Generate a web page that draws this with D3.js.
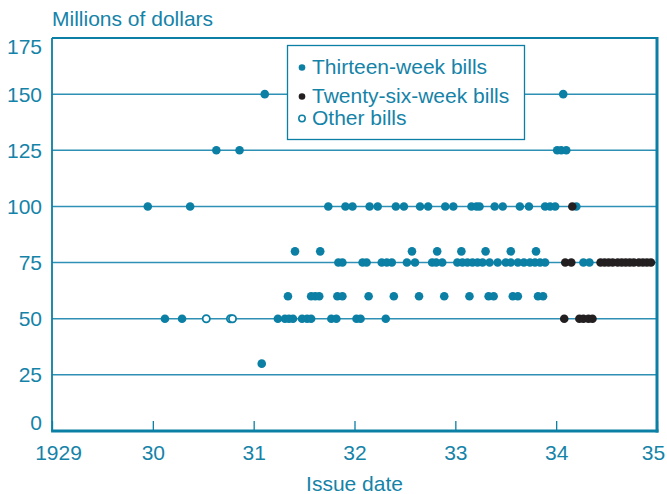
<!DOCTYPE html>
<html>
<head>
<meta charset="utf-8">
<script src="https://cdn.jsdelivr.net/npm/d3@7"></script>
<style>
  html, body { margin: 0; padding: 0; background: #fff; }
  svg { display: block; font-family: "Liberation Sans", Arial, sans-serif; }
</style>
</head>
<body>
<svg id="chart" width="667" height="494"></svg>
<script>
// Treasury bill issues, 1929-1935: [issue date (decimal year), amount in millions of dollars]
const thirteenWeek = [
  [1931.11, 150], [1934.07, 150],
  [1930.63, 125], [1930.86, 125], [1934.01, 125], [1934.05, 125], [1934.10, 125],
  [1929.95, 100], [1930.37, 100], [1931.74, 100], [1931.91, 100], [1931.98, 100],
  [1932.15, 100], [1932.23, 100], [1932.41, 100], [1932.49, 100], [1932.65, 100],
  [1932.73, 100], [1932.90, 100], [1932.98, 100], [1933.16, 100], [1933.21, 100],
  [1933.24, 100], [1933.39, 100], [1933.47, 100], [1933.64, 100], [1933.73, 100],
  [1933.89, 100], [1933.94, 100], [1933.99, 100], [1934.20, 100],
  [1931.41, 80], [1931.66, 80], [1932.57, 80], [1932.82, 80], [1933.06, 80],
  [1933.30, 80], [1933.55, 80], [1933.80, 80],
  [1931.84, 75], [1931.88, 75], [1932.08, 75], [1932.12, 75], [1932.27, 75],
  [1932.32, 75], [1932.37, 75], [1932.52, 75], [1932.60, 75], [1932.77, 75],
  [1932.81, 75], [1932.87, 75], [1933.02, 75], [1933.07, 75], [1933.12, 75],
  [1933.17, 75], [1933.22, 75], [1933.27, 75], [1933.34, 75], [1933.42, 75],
  [1933.50, 75], [1933.55, 75], [1933.62, 75], [1933.68, 75], [1933.74, 75],
  [1933.79, 75], [1933.84, 75], [1933.89, 75], [1934.27, 75], [1934.33, 75],
  [1931.34, 60], [1931.57, 60], [1931.61, 60], [1931.65, 60], [1931.83, 60],
  [1931.88, 60], [1932.14, 60], [1932.39, 60], [1932.64, 60], [1932.89, 60],
  [1933.14, 60], [1933.33, 60], [1933.38, 60], [1933.57, 60], [1933.62, 60],
  [1933.82, 60], [1933.87, 60],
  [1930.12, 50], [1930.29, 50], [1931.24, 50], [1931.31, 50], [1931.35, 50],
  [1931.39, 50], [1931.48, 50], [1931.53, 50], [1931.57, 50], [1931.77, 50],
  [1931.82, 50], [1932.02, 50], [1932.06, 50], [1932.31, 50],
  [1931.08, 30]
];

const twentySixWeek = [
  [1934.16, 100],
  [1934.09, 75], [1934.15, 75],
  [1934.44, 75], [1934.48, 75], [1934.52, 75], [1934.56, 75], [1934.61, 75],
  [1934.65, 75], [1934.69, 75], [1934.73, 75], [1934.77, 75], [1934.82, 75],
  [1934.86, 75], [1934.90, 75], [1934.94, 75],
  [1934.08, 50], [1934.23, 50], [1934.27, 50], [1934.32, 50], [1934.36, 50]
];

const otherBills = [
  [1930.53, 50], [1930.77, 50], [1930.79, 50]
];

const yTicks = [0, 25, 50, 75, 100, 125, 150, 175];
const gridValues = [25, 50, 75, 100, 125, 150];
const xTicks = [1929, 1930, 1931, 1932, 1933, 1934, 1935];
const xTickLabels = ["1929", "30", "31", "32", "33", "34", "35"];
const legendLabels = ["Thirteen-week bills", "Twenty-six-week bills", "Other bills"];

const TEAL = "#0b7fa4";
const TEXT = "#1583a8";
const GRID = "#2e90b4";
const BLACK = "#231f20";

const svg = d3.select("#chart");
const plotLeft = 52, plotRight = 657, plotTop = 38, plotBottom = 431;

const x = d3.scaleLinear().domain([1929, 1935]).range([plotLeft, plotRight]);
const y = d3.scaleLinear().domain([0, 175]).range([plotBottom, plotTop]);

// horizontal reference lines
svg.append("g")
  .selectAll("line")
  .data(gridValues)
  .join("line")
  .attr("x1", plotLeft).attr("x2", plotRight)
  .attr("y1", d => y(d)).attr("y2", d => y(d))
  .attr("stroke", GRID)
  .attr("stroke-width", 1.5);

// y axis labels
const yAxis = svg.append("g")
  .attr("transform", `translate(${plotLeft},0)`)
  .call(d3.axisLeft(y).tickValues(yTicks).tickSize(0).tickPadding(10).tickFormat(d3.format("d")));
yAxis.select(".domain").remove();
yAxis.selectAll("text")
  .attr("fill", TEXT)
  .attr("font-size", 21)
  .attr("font-family", "Liberation Sans, Arial, sans-serif")
  .attr("dy", d => d === 175 ? "0.72em" : d === 0 ? "-0.05em" : "0.34em");

// x axis with inward ticks
const xAxis = svg.append("g")
  .attr("transform", `translate(0,${plotBottom})`)
  .call(d3.axisBottom(x).tickValues(xTicks).tickSize(-10).tickPadding(14)
    .tickFormat((d, i) => xTickLabels[i]));
xAxis.select(".domain").remove();
xAxis.selectAll("line").attr("stroke", TEAL).attr("stroke-width", 1.3);
xAxis.selectAll("text")
  .attr("fill", TEXT)
  .attr("font-size", 21)
  .attr("font-family", "Liberation Sans, Arial, sans-serif")
  .attr("dx", d => d === 1929 ? 6 : d === 1935 ? -4 : 0);

// plot frame: lighter on top/left, heavier on bottom/right
const frame = svg.append("g").attr("stroke", TEAL).attr("fill", "none");
frame.append("line").attr("x1", plotLeft).attr("x2", plotRight).attr("y1", plotTop).attr("y2", plotTop).attr("stroke-width", 2);
frame.append("line").attr("x1", plotLeft).attr("x2", plotLeft).attr("y1", plotTop).attr("y2", plotBottom).attr("stroke-width", 1.8);
frame.append("line").attr("x1", plotRight).attr("x2", plotRight).attr("y1", plotTop - 1).attr("y2", plotBottom + 1.5).attr("stroke-width", 3);
frame.append("line").attr("x1", plotLeft - 0.9).attr("x2", plotRight + 1.5).attr("y1", plotBottom).attr("y2", plotBottom).attr("stroke-width", 3);

// data points
const R = 4.3;
svg.append("g").selectAll("circle")
  .data(thirteenWeek).join("circle")
  .attr("cx", d => x(d[0])).attr("cy", d => y(d[1])).attr("r", R)
  .attr("fill", TEAL);

svg.append("g").selectAll("circle")
  .data(twentySixWeek).join("circle")
  .attr("cx", d => x(d[0])).attr("cy", d => y(d[1])).attr("r", R)
  .attr("fill", BLACK);

svg.append("g").selectAll("circle")
  .data(otherBills).join("circle")
  .attr("cx", d => x(d[0])).attr("cy", d => y(d[1])).attr("r", 3.6)
  .attr("fill", "#fff").attr("stroke", TEAL).attr("stroke-width", 1.8);

// legend
const legend = svg.append("g");
legend.append("rect")
  .attr("x", 287.5).attr("y", 45.5).attr("width", 237).attr("height", 94)
  .attr("fill", "#fff").attr("stroke", TEAL).attr("stroke-width", 1.3);
const legendRows = [74, 103, 125];
const legendStyles = [
  { fill: TEAL, stroke: "none" },
  { fill: BLACK, stroke: "none" },
  { fill: "#fff", stroke: TEAL }
];
legendLabels.forEach((label, i) => {
  legend.append("circle")
    .attr("cx", 302).attr("cy", legendRows[i] - 6.5).attr("r", i === 2 ? 3.2 : 3.3)
    .attr("fill", legendStyles[i].fill)
    .attr("stroke", legendStyles[i].stroke).attr("stroke-width", 1.5);
  legend.append("text")
    .attr("x", 312).attr("y", legendRows[i])
    .attr("fill", TEXT).attr("font-size", 21)
    .text(label);
});

// axis titles
svg.append("text")
  .attr("x", 52).attr("y", 26)
  .attr("fill", TEXT).attr("font-size", 21)
  .text("Millions of dollars");
svg.append("text")
  .attr("x", (plotLeft + plotRight) / 2).attr("y", 491)
  .attr("text-anchor", "middle")
  .attr("fill", TEXT).attr("font-size", 21)
  .text("Issue date");
</script>
</body>
</html>
